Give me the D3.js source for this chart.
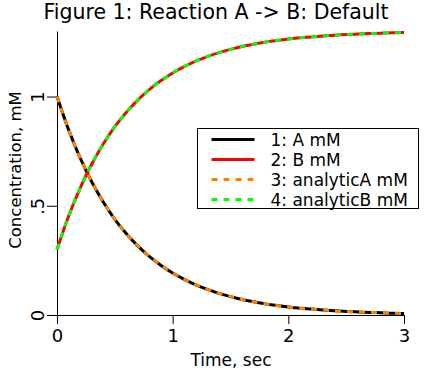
<!DOCTYPE html>
<html>
<head>
<meta charset="utf-8">
<script src="https://cdn.jsdelivr.net/npm/d3@7"></script>
<style>
  body { margin: 0; background: #fff; }
  svg { display: block; font-family: "DejaVu Sans", Verdana, sans-serif; }
</style>
</head>
<body>
<div id="chart"></div>
<script>
// DATA (time step 0.1 sec)
const times = [0, 0.1, 0.2, 0.3, 0.4, 0.5, 0.6, 0.7, 0.8, 0.9, 1.0,
  1.1, 1.2, 1.3, 1.4, 1.5, 1.6, 1.7, 1.8, 1.9, 2.0,
  2.1, 2.2, 2.3, 2.4, 2.5, 2.6, 2.7, 2.8, 2.9, 3.0];
const aValues = [1.0, 0.848, 0.719, 0.61, 0.517, 0.438, 0.372, 0.315, 0.267, 0.227, 0.192,
  0.163, 0.138, 0.117, 0.099, 0.084, 0.071, 0.061, 0.051, 0.044, 0.037,
  0.031, 0.027, 0.023, 0.019, 0.016, 0.014, 0.012, 0.01, 0.008, 0.007];
const bValues = [0.3, 0.452, 0.581, 0.69, 0.783, 0.862, 0.928, 0.985, 1.033, 1.073, 1.108,
  1.137, 1.162, 1.183, 1.201, 1.216, 1.229, 1.239, 1.249, 1.256, 1.263,
  1.269, 1.273, 1.277, 1.281, 1.284, 1.286, 1.288, 1.29, 1.292, 1.293];
const analyticA = [1.0, 0.848, 0.719, 0.61, 0.517, 0.438, 0.372, 0.315, 0.267, 0.227, 0.192,
  0.163, 0.138, 0.117, 0.099, 0.084, 0.071, 0.061, 0.051, 0.044, 0.037,
  0.031, 0.027, 0.023, 0.019, 0.016, 0.014, 0.012, 0.01, 0.008, 0.007];
const analyticB = [0.3, 0.452, 0.581, 0.69, 0.783, 0.862, 0.928, 0.985, 1.033, 1.073, 1.108,
  1.137, 1.162, 1.183, 1.201, 1.216, 1.229, 1.239, 1.249, 1.256, 1.263,
  1.269, 1.273, 1.277, 1.281, 1.284, 1.286, 1.288, 1.29, 1.292, 1.293];
const seriesNames = ["1: A mM", "2: B mM", "3: analyticA mM", "4: analyticB mM"];
const xTicks = [0, 1, 2, 3];
const yTicks = [0, 0.5, 1];

const width = 427, height = 372;
const margin = { top: 31, right: 23, bottom: 57, left: 57 };

const series = [
  { name: seriesNames[0], values: aValues, color: "#000000", dash: null },
  { name: seriesNames[1], values: bValues, color: "#ff0000", dash: null },
  { name: seriesNames[2], values: analyticA, color: "#ff8000", dash: "6,6" },
  { name: seriesNames[3], values: analyticB, color: "#00ff00", dash: "6,6" }
];

const svg = d3.select("#chart").append("svg")
  .attr("width", width)
  .attr("height", height);

const xScale = d3.scaleLinear()
  .domain([0, 3])
  .range([margin.left, width - margin.right]);

const yScale = d3.scaleLinear()
  .domain([0, 1.3])
  .range([height - margin.bottom, margin.top]);

// title
svg.append("text")
  .attr("x", 216)
  .attr("y", 19)
  .attr("text-anchor", "middle")
  .attr("font-size", 20.5)
  .text("Figure 1: Reaction A -> B: Default");

// x axis
const xAxis = d3.axisBottom(xScale).tickValues(xTicks).tickSize(9).tickSizeOuter(0).tickPadding(5)
  .tickFormat(d3.format("d"));
const gx = svg.append("g")
  .attr("transform", `translate(0,${height - margin.bottom})`)
  .call(xAxis);
gx.attr("font-family", null);
gx.selectAll("text").attr("font-size", 18).attr("fill", "#000");
gx.selectAll("line, path").attr("stroke", "#000");

svg.append("text")
  .attr("x", 231)
  .attr("y", 366)
  .attr("text-anchor", "middle")
  .attr("font-size", 17)
  .text("Time, sec");

// y axis
const yAxis = d3.axisLeft(yScale).tickValues(yTicks).tickSize(10).tickSizeOuter(0)
  .tickFormat(d => d === 0.5 ? ".5" : d);
const gy = svg.append("g")
  .attr("transform", `translate(${margin.left},0)`)
  .call(yAxis);
gy.attr("font-family", null);
gy.selectAll("line, path").attr("stroke", "#000");
gy.selectAll("text")
  .attr("font-size", 18)
  .attr("fill", "#000")
  .attr("x", 0)
  .attr("dy", null)
  .attr("text-anchor", "middle")
  .attr("transform", "translate(-13,0) rotate(-90)");

svg.append("text")
  .attr("transform", "translate(21,170) rotate(-90)")
  .attr("text-anchor", "middle")
  .attr("font-size", 16.5)
  .text("Concentration, mM");

// lines
const line = d3.line()
  .x((d, i) => xScale(times[i]))
  .y(d => yScale(d))
  .curve(d3.curveMonotoneX);

svg.selectAll(".series")
  .data(series)
  .join("path")
  .attr("class", "series")
  .attr("fill", "none")
  .attr("stroke", d => d.color)
  .attr("stroke-width", 3)
  .attr("stroke-dasharray", d => d.dash)
  .attr("d", d => line(d.values));

// legend
const legend = svg.append("g").attr("transform", "translate(197.5,128.5)");
legend.append("rect")
  .attr("width", 221)
  .attr("height", 80)
  .attr("fill", "#fff")
  .attr("stroke", "#000");

const item = legend.selectAll(".item")
  .data(series)
  .join("g")
  .attr("class", "item")
  .attr("transform", (d, i) => `translate(0,${11 + i * 20})`);

item.append("line")
  .attr("x1", 14)
  .attr("x2", 57)
  .attr("stroke", d => d.color)
  .attr("stroke-width", 3)
  .attr("stroke-dasharray", d => d.dash);

item.append("text")
  .attr("x", 73)
  .attr("y", 6)
  .attr("font-size", 17)
  .text(d => d.name);
</script>
</body>
</html>
